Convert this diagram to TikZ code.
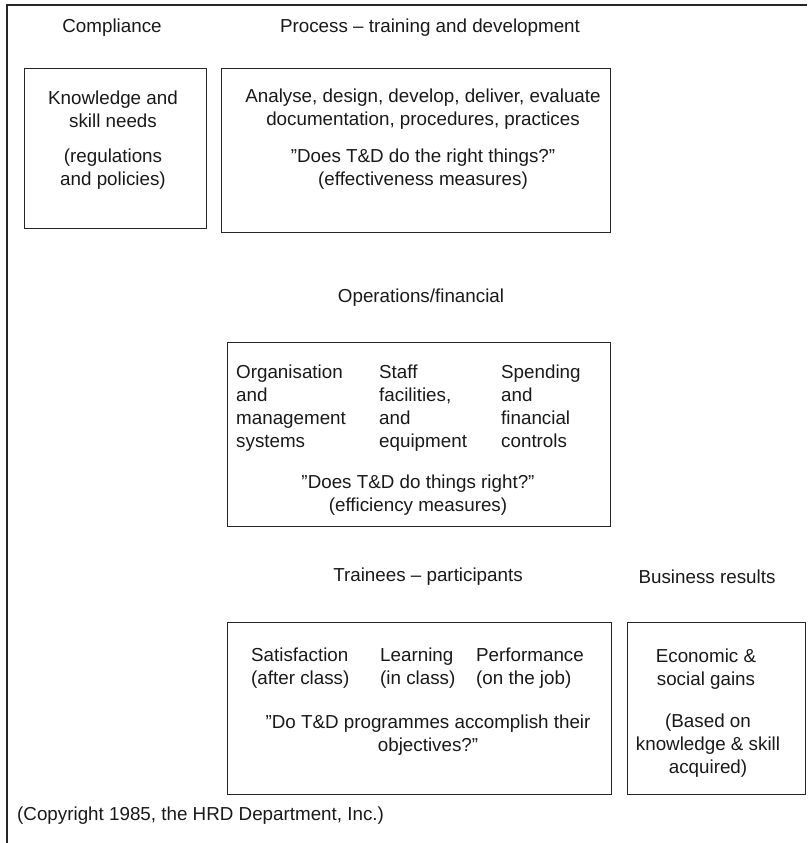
\documentclass[tikz,border=0pt]{standalone}
\usepackage{fontspec}
\setmainfont{Liberation Sans}
\usetikzlibrary{positioning}

\begin{document}
\begin{tikzpicture}[
  x=1pt, y=-1pt,
  every node/.style={font=\fontsize{18.8}{23}\selectfont, text=black!90, inner sep=0pt},
  box/.style={draw=black!85, line width=0.9pt},
  col/.style={align=left, anchor=north west},
  mid/.style={align=center},
]

\useasboundingbox (0,0) rectangle (807,843);

% Outer frame (top and left only)
\draw[black!85, line width=1.6pt] (807,5) -- (7,5) -- (7,843);

% Headings
\node (hcomp) at (112,28) {Compliance};
\node (hproc) at (430,28) {Process -- training and development};
\node (hops)  at (421,298) {Operations/financial};
\node (htrain) at (428,577) {Trainees -- participants};
\node (hbus)  at (707,577) {Business results};

% Compliance box
\draw[box] (24,68) rectangle (206,228);
\node[mid] (know) at (113,109) {Knowledge and\\skill needs};
\node[mid] (regs) at (113,169) {(regulations\\and policies)};

% Process box
\draw[box] (221,68) rectangle (610,232);
\node[mid] (adde) at (423,109) {Analyse, design, develop, deliver, evaluate\\documentation, procedures, practices};
\node[mid] (right) at (423,169) {''Does T\&D do the right things?''\\(effectiveness measures)};

% Operations/financial box
\draw[box] (227,342) rectangle (610,526);
\node[col] (org)   at (236,362) {\strut Organisation\\and\\management\\systems};
\node[col] (staff) at (379,362) {\strut Staff\\facilities,\\and\\equipment};
\node[col] (spend) at (501,362) {\strut Spending\\and\\financial\\controls};
\node[mid] (effi)  at (418,495) {''Does T\&D do things right?''\\(efficiency measures)};

% Trainees box
\draw[box] (227,622) rectangle (611,794);
\node[col] (sat)  at (251,645) {\strut Satisfaction\\(after class)};
\node[col] (lrn)  at (380,645) {\strut Learning\\(in class)};
\node[col] (perf) at (476,645) {\strut Performance\\(on the job)};
\node[mid] (obj)  at (428,735) {''Do T\&D programmes accomplish their\\objectives?''};

% Business results box
\draw[box] (627,622) rectangle (805,794);
\node[mid] (gain) at (706,669) {Economic \&\\social gains};
\node[mid] (base) at (708,746) {(Based on\\knowledge \& skill\\acquired)};

% Source note
\node[anchor=west] (copy) at (17,816) {(Copyright 1985, the HRD Department, Inc.)};

\end{tikzpicture}
\end{document}
